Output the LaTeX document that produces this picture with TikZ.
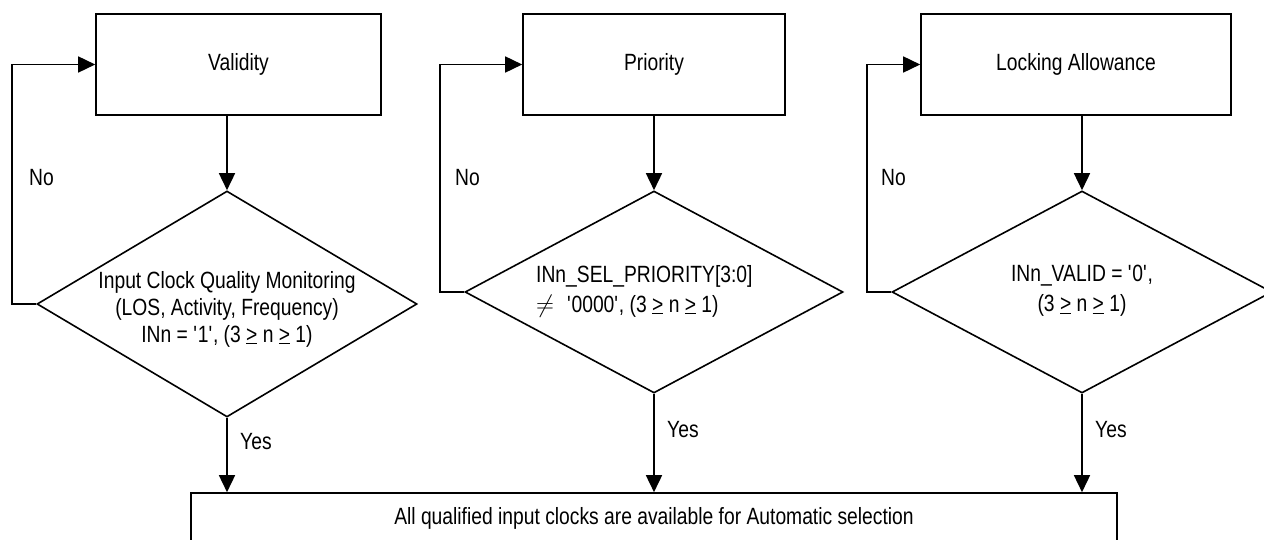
\documentclass[tikz,border=0pt]{standalone}
\usepackage{fontspec}
\setmainfont[FakeStretch=0.82]{Liberation Sans}
\usetikzlibrary{shapes.geometric,arrows.meta}
\newcommand\fsz{\fontsize{23.5}{27}\selectfont}
\newcommand\sq{\textquotesingle}
\newcommand\ugeq{\underline{>}}
\begin{document}
\begin{tikzpicture}[x=1pt,y=-1pt,
  every node/.style={font=\fsz},
  procbox/.style={draw,line width=1.6pt,inner sep=0pt},
  decision/.style={draw,diamond,line width=1.6pt,inner sep=0pt},
  txt/.style={inner sep=0pt,align=center},
  lbl/.style={inner sep=0pt,anchor=west},
  arr/.style={line width=1.6pt,-{Triangle[length=17pt,width=16pt]}},
  ln/.style={line width=1.6pt}]
\useasboundingbox (0,0) rectangle (1264,540);
% boxes
\node[procbox,minimum width=285pt,minimum height=101pt] (b1) at (238.5,64.5) {Validity};
\node[procbox,minimum width=262pt,minimum height=101pt] (b2) at (654,64.5) {Priority};
\node[procbox,minimum width=310pt,minimum height=101pt] (b3) at (1076,64.5) {Locking Allowance};
\node[procbox,minimum width=926pt,minimum height=50pt] (bot) at (654,518) {All qualified input clocks are available for Automatic selection};
% diamonds
\node[decision,minimum width=380pt,minimum height=226pt] (d1) at (227,304) {};
\node[decision,minimum width=378pt,minimum height=202pt] (d2) at (654,292) {};
\node[decision,minimum width=380pt,minimum height=202pt] (d3) at (1082,292) {};
% diamond texts
\node[txt,font=\fontsize{23.5}{27}\selectfont] (t1) at (227,309) {Input Clock Quality Monitoring\\(LOS, Activity, Frequency)\\INn = \sq1\sq, (3 \ugeq{} n \ugeq{} 1)};
\node[txt,align=left,anchor=west,font=\fontsize{23.5}{30}\selectfont] (t2) at (536,291) {INn\_SEL\_PRIORITY[3:0]\\$\neq$\hspace{13pt}\sq0000\sq, (3 \ugeq{} n \ugeq{} 1)};
\node[txt,font=\fontsize{23.5}{30}\selectfont] (t3) at (1082,291) {INn\_VALID = \sq0\sq,\\(3 \ugeq{} n \ugeq{} 1)};
% box -> diamond
\draw[arr] (d1.north |- b1.south) -- (d1.north);
\draw[arr] (d2.north |- b2.south) -- (d2.north);
\draw[arr] (d3.north |- b3.south) -- (d3.north);
% No loops
\draw[arr] (d1.west) -- ++(-24,0) |- (b1.west);
\draw[arr] (d2.west) -- ++(-24,0) |- (b2.west);
\draw[arr] (d3.west) -- ++(-24,0) |- (b3.west);
% Yes arrows
\draw[arr] (d1.south) -- (d1.south |- bot.north);
\draw[arr] (d2.south) -- (d2.south |- bot.north);
\draw[arr] (d3.south) -- (d3.south |- bot.north);
% labels
\node[lbl] (no1) at (29,178) {No};
\node[lbl] (no2) at (455,178) {No};
\node[lbl] (no3) at (881,178) {No};
\node[lbl] (yes1) at (240,442) {Yes};
\node[lbl] (yes2) at (667,430) {Yes};
\node[lbl] (yes3) at (1095,430) {Yes};
\end{tikzpicture}
\end{document}
